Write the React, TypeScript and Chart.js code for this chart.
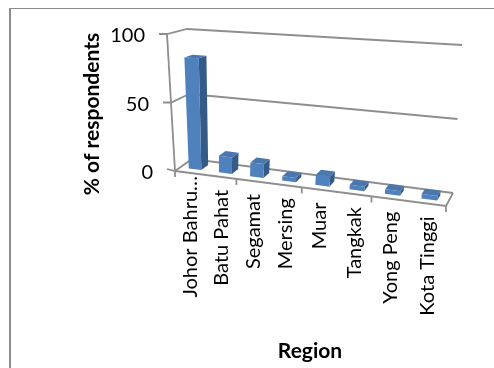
import { useEffect, useRef } from "react";
import { Chart, registerables } from "chart.js";

Chart.register(...registerables);

const regions = ["Johor Bahru…", "Batu Pahat", "Segamat", "Mersing", "Muar", "Tangkak", "Yong Peng", "Kota Tinggi"];
const respondents = [82, 12, 10, 3, 7, 3, 3, 3];
const valueTicks = [0, 50, 100];

type Pt = [number, number];
type Quad = [Pt, Pt, Pt, Pt];

// Corners of the floor and of the plane at the top of the value axis,
// ordered front-left, back-left, back-right, front-right.
const FLOOR: Quad = [[175, 171], [192, 159], [453, 193], [446, 206]];
const CEILING: Quad = [[167, 34], [187, 29], [462, 45], [456, 50]];
const BAR_DEPTH: Pt = [0.3, 0.72];
// Foreshortening along the category axis: categories further left look narrower.
const FORESHORTEN = 0.86;

const LINE = "#8e8e8e";
const LABEL_FONT = "20px Lato";
const TITLE_FONT = "bold 21px Lato";

function homography(q: Quad) {
  const [[x0, y0], [x3, y3], [x2, y2], [x1, y1]] = q;
  const dx1 = x1 - x2, dx2 = x3 - x2, dx3 = x0 - x1 + x2 - x3;
  const dy1 = y1 - y2, dy2 = y3 - y2, dy3 = y0 - y1 + y2 - y3;
  const den = dx1 * dy2 - dx2 * dy1;
  const g = (dx3 * dy2 - dx2 * dy3) / den;
  const h = (dx1 * dy3 - dx3 * dy1) / den;
  const a = x1 - x0 + g * x1, b = x3 - x0 + h * x3;
  const d = y1 - y0 + g * y1, e = y3 - y0 + h * y3;
  return (u: number, w: number): Pt => {
    const s = g * u + h * w + 1;
    return [(a * u + b * w + x0) / s, (d * u + e * w + y0) / s];
  };
}

const floorAt = homography(FLOOR);
const ceilingAt = homography(CEILING);

function project(u: number, v: number, depth: number): Pt {
  const along = (FORESHORTEN * u) / (1 + (FORESHORTEN - 1) * u);
  const f = floorAt(along, depth);
  const c = ceilingAt(along, depth);
  return [f[0] + (c[0] - f[0]) * v, f[1] + (c[1] - f[1]) * v];
}

function polygon(ctx: CanvasRenderingContext2D, pts: Pt[], fill: string) {
  ctx.beginPath();
  pts.forEach((p, i) => (i ? ctx.lineTo(p[0], p[1]) : ctx.moveTo(p[0], p[1])));
  ctx.closePath();
  ctx.fillStyle = fill;
  ctx.fill();
}

function polyline(ctx: CanvasRenderingContext2D, pts: Pt[], color = LINE, width = 1.8) {
  ctx.beginPath();
  pts.forEach((p, i) => (i ? ctx.lineTo(p[0], p[1]) : ctx.moveTo(p[0], p[1])));
  ctx.strokeStyle = color;
  ctx.lineWidth = width;
  ctx.stroke();
}

function verticalText(ctx: CanvasRenderingContext2D, text: string, x: number, y: number, font: string, align: CanvasTextAlign) {
  ctx.save();
  ctx.translate(x, y);
  ctx.rotate(-Math.PI / 2);
  ctx.font = font;
  ctx.fillStyle = "#000";
  ctx.textAlign = align;
  ctx.textBaseline = "middle";
  ctx.fillText(text, 0, 0);
  ctx.restore();
}

// Draws the box, axes and bars in perspective from the chart's own scales.
const perspectivePlugin = {
  id: "perspective",
  beforeDatasetsDraw(chart: any) {
    const { ctx, scales } = chart;
    const xs = scales.x, ys = scales.y;
    const toU = (px: number) => (px - xs.left) / xs.width;
    const toV = (px: number) => (ys.bottom - px) / ys.height;

    // Frame of the surrounding sheet
    ctx.fillStyle = "#8c8c8c";
    ctx.fillRect(9, 8, 2, 360);
    ctx.fillRect(9, 8, 485, 1);

    ys.ticks.forEach((t: any) => {
      const v = toV(ys.getPixelForValue(t.value));
      const front = project(0, v, 0);
      const back = project(0, v, 1);
      const right = project(1, v, 1);
      polyline(ctx, [[front[0] - 8, front[1] - (v === 0 ? 2 : 0)], front, back, right]);
      ctx.font = LABEL_FONT;
      ctx.fillStyle = "#000";
      ctx.textAlign = "right";
      ctx.textBaseline = "middle";
      ctx.fillText(String(t.value), front[0] - 22, front[1] + 2);
    });

    polyline(ctx, [project(0, 0, 0), project(0, 1, 0)]);
    polyline(ctx, [project(0, 0, 0), project(1, 0, 0), project(1, 0, 1)]);

    const slots = xs.ticks.length;
    for (let i = 0; i <= slots; i++) {
      const p = project(i / slots, 0, 0);
      polyline(ctx, [p, [p[0], p[1] + 6]]);
    }

    regions.forEach((label, i) => {
      const p = project(toU(xs.getPixelForValue(i)), 0, 0);
      // A shortened label runs up closer to the axis than the complete ones.
      const gap = label.endsWith("…") ? 3 : 13;
      verticalText(ctx, label, p[0] + 1, p[1] + gap, LABEL_FONT, "right");
    });

    verticalText(ctx, "% of respondents", 92.5, 114, TITLE_FONT, "center");
    ctx.font = TITLE_FONT;
    ctx.fillStyle = "#000";
    ctx.textAlign = "center";
    ctx.textBaseline = "middle";
    ctx.fillText("Region", 310, 351);
  },
  beforeDatasetDraw(chart: any, args: any) {
    const { ctx, scales } = chart;
    const xs = scales.x, ys = scales.y;
    const toU = (px: number) => (px - xs.left) / xs.width;
    const toV = (px: number) => (ys.bottom - px) / ys.height;
    const [near, far] = BAR_DEPTH;

    args.meta.data.forEach((bar: any) => {
      const l = toU(bar.x - bar.width / 2);
      const r = toU(bar.x + bar.width / 2);
      const v = toV(bar.y);
      const front: Pt[] = [project(l, 0, near), project(r, 0, near), project(r, v, near), project(l, v, near)];
      const side: Pt[] = [project(r, 0, near), project(r, 0, far), project(r, v, far), project(r, v, near)];
      const top: Pt[] = [project(l, v, near), project(r, v, near), project(r, v, far), project(l, v, far)];
      polygon(ctx, side, "#345a88");
      polygon(ctx, front, "#4f81bd");
      polygon(ctx, top, "#4a78ae");
    });
    return false;
  },
};

export default function App() {
  const ref = useRef<HTMLCanvasElement | null>(null);

  useEffect(() => {
    const chart = new Chart(ref.current!, {
      type: "bar",
      data: {
        labels: regions,
        datasets: [{ label: "% of respondents", data: respondents, backgroundColor: "#4f81bd", categoryPercentage: 1, barPercentage: 0.42 }],
      },
      options: {
        animation: false,
        responsive: false,
        plugins: { legend: { display: false }, tooltip: { enabled: false } },
        scales: {
          x: { display: false },
          y: {
            display: false,
            min: valueTicks[0],
            max: valueTicks[valueTicks.length - 1],
            afterBuildTicks: (axis: any) => {
              axis.ticks = valueTicks.map((value) => ({ value }));
            },
          },
        },
      },
      plugins: [perspectivePlugin],
    });
    return () => chart.destroy();
  }, []);

  return (
    <canvas
      ref={ref}
      width={494}
      height={368}
      style={{ position: "fixed", left: 0, top: 0, width: 494, height: 368, display: "block", background: "#fff" }}
    />
  );
}
